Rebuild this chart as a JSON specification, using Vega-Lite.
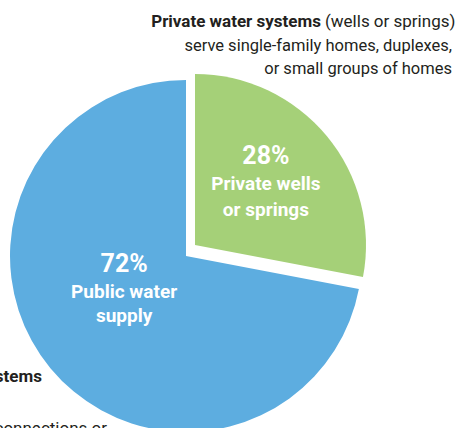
{
  "$schema": "https://vega.github.io/schema/vega-lite/v6.json",
  "width": 456,
  "height": 428,
  "autosize": {"type": "none"},
  "padding": 0,
  "background": "white",
  "config": {"view": {"stroke": null}},
  "datasets": {
    "slices": [
      {"name": "Private", "pct": "28%", "desc": ["Private wells", "or springs"], "value": 28},
      {"name": "Public", "pct": "72%", "desc": ["Public water", "supply"], "value": 72}
    ]
  },
  "layer": [
    {
      "data": {"name": "slices"},
      "mark": {"type": "arc", "x": 186, "y": 256, "outerRadius": 176},
      "encoding": {
        "theta": {"field": "value", "type": "quantitative", "stack": true},
        "color": {"field": "name", "type": "nominal", "scale": {"domain": ["Private", "Public"], "range": ["#A5D078", "#5DADE0"]}, "legend": null},
        "fillOpacity": {"condition": {"test": "datum.name === 'Public'", "value": 1}, "value": 0}
      }
    },
    {
      "data": {"name": "slices"},
      "mark": {"type": "arc", "x": 195, "y": 245, "outerRadius": 171},
      "encoding": {
        "theta": {"field": "value", "type": "quantitative", "stack": true},
        "color": {"field": "name", "type": "nominal", "scale": {"domain": ["Private", "Public"], "range": ["#A5D078", "#5DADE0"]}, "legend": null},
        "fillOpacity": {"condition": {"test": "datum.name === 'Private'", "value": 1}, "value": 0}
      }
    },
    {
      "data": {"name": "slices"},
      "mark": {"type": "text", "x": 185, "y": 256, "radius": 105, "dy": -25, "fontSize": 25, "fontWeight": "bold", "font": "Roboto", "fill": "white", "align": "center", "baseline": "alphabetic"},
      "encoding": {
        "theta": {"field": "value", "type": "quantitative", "stack": true},
        "order": {"field": "name", "type": "ordinal"},
        "text": {"field": "pct"},
        "opacity": {"condition": {"test": "datum.name === 'Private'", "value": 1}, "value": 0}
      }
    },
    {
      "data": {"name": "slices"},
      "mark": {"type": "text", "x": 185, "y": 256, "radius": 105, "dy": 1, "fontSize": 19, "lineHeight": 26, "fontWeight": "bold", "font": "Roboto", "fill": "white", "align": "center", "baseline": "alphabetic"},
      "encoding": {
        "theta": {"field": "value", "type": "quantitative", "stack": true},
        "order": {"field": "name", "type": "ordinal"},
        "text": {"field": "desc"},
        "opacity": {"condition": {"test": "datum.name === 'Private'", "value": 1}, "value": 0}
      }
    },
    {
      "data": {"name": "slices"},
      "mark": {"type": "text", "x": 185, "y": 256, "radius": 79, "dy": -34, "fontSize": 25, "fontWeight": "bold", "font": "Roboto", "fill": "white", "align": "center", "baseline": "alphabetic"},
      "encoding": {
        "theta": {"field": "value", "type": "quantitative", "stack": true},
        "order": {"field": "name", "type": "ordinal"},
        "text": {"field": "pct"},
        "opacity": {"condition": {"test": "datum.name === 'Public'", "value": 1}, "value": 0}
      }
    },
    {
      "data": {"name": "slices"},
      "mark": {"type": "text", "x": 185, "y": 256, "radius": 79, "dy": -8, "fontSize": 19, "lineHeight": 24, "fontWeight": "bold", "font": "Roboto", "fill": "white", "align": "center", "baseline": "alphabetic"},
      "encoding": {
        "theta": {"field": "value", "type": "quantitative", "stack": true},
        "order": {"field": "name", "type": "ordinal"},
        "text": {"field": "desc"},
        "opacity": {"condition": {"test": "datum.name === 'Public'", "value": 1}, "value": 0}
      }
    },
    {
      "data": {"values": [{"t": "Private water systems"}]},
      "mark": {"type": "text", "x": 321, "y": 27, "fontSize": 17, "fontWeight": "bold", "font": "Roboto", "fill": "#231F20", "align": "right", "baseline": "alphabetic"},
      "encoding": {"text": {"field": "t"}}
    },
    {
      "data": {"values": [{"t": "(wells or springs)"}]},
      "mark": {"type": "text", "x": 325, "y": 27, "fontSize": 17, "font": "Roboto", "fill": "#231F20", "align": "left", "baseline": "alphabetic"},
      "encoding": {"text": {"field": "t"}}
    },
    {
      "data": {"values": [{"t": "serve single-family homes, duplexes,"}, {"t": "or small groups of homes"}]},
      "mark": {"type": "text", "x": 452, "fontSize": 16.5, "font": "Roboto", "fill": "#231F20", "align": "right", "baseline": "alphabetic"},
      "encoding": {
        "text": {"field": "t"},
        "y": {"field": "t", "type": "nominal", "sort": null, "scale": {"range": [50.5, 73.5], "type": "point", "padding": 0}, "axis": null}
      }
    },
    {
      "data": {"values": [{"t": "Public water systems"}]},
      "mark": {"type": "text", "x": 42, "y": 382, "fontSize": 17, "fontWeight": "bold", "font": "Roboto", "fill": "#231F20", "align": "right", "baseline": "alphabetic"},
      "encoding": {"text": {"field": "t"}}
    },
    {
      "data": {"values": [{"t": "15 service connections or"}]},
      "mark": {"type": "text", "x": 107, "y": 434, "fontSize": 17, "font": "Roboto", "fill": "#231F20", "align": "right", "baseline": "alphabetic"},
      "encoding": {"text": {"field": "t"}}
    }
  ]
}
